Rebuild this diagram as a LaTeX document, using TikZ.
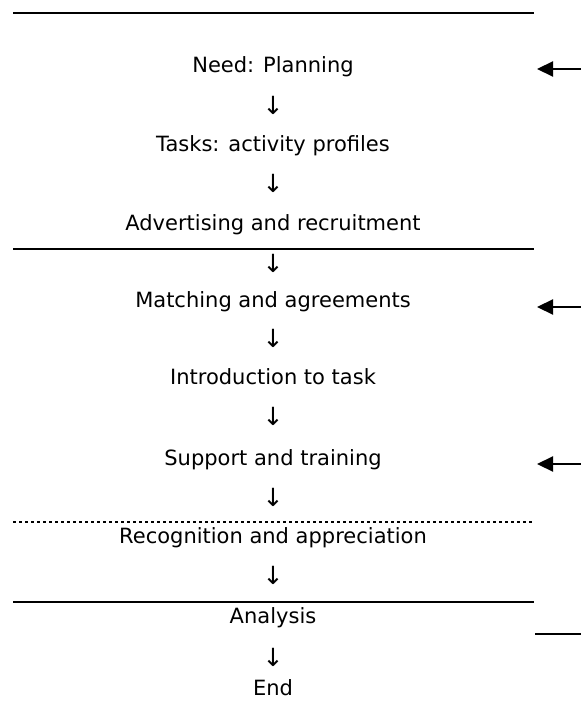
\documentclass[tikz,border=0pt]{standalone}
\usepackage{fontspec}
\setmainfont{DejaVu Sans}
\usetikzlibrary{arrows.meta}

\tikzset{
  stage/.style={anchor=base, inner sep=0pt, font=\fontsize{10.5}{12}\selectfont},
  down/.style={anchor=center, inner sep=0pt, font=\fontsize{12.5}{14}\selectfont},
  rule/.style={line width=1.4pt},
  dotrule/.style={line width=1pt, dash pattern=on 1.5pt off 1.5pt},
  feed/.style={line width=1.1pt, -{Triangle[length=8pt,width=7.5pt]}}
}

\begin{document}
\begin{tikzpicture}[x=0.5pt, y=-0.5pt]
	  \useasboundingbox (0,0) rectangle (581,711);
	  % section rules
	  \draw [rule] (13,13) -- (534,13);
	  \draw [rule] (13,249) -- (534,249);
	  \draw [dotrule] (13,522) -- (534,522);
	  \draw [rule] (13,602) -- (534,602);
	  % stages
	  \node [stage] (need) at (273,73) {Need: Planning};
	  \node [down] (d1) at (273,105) {↓};
	  \node [stage] (tasks) at (273,152) {Tasks: activity profiles};
	  \node [down] (d2) at (273,183) {↓};
	  \node [stage] (advert) at (273,230) {Advertising and recruitment};
	  \node [down] (d3) at (273,263) {↓};
	  \node [stage] (match) at (273,307) {Matching and agreements};
	  \node [down] (d4) at (273,338) {↓};
	  \node [stage] (intro) at (273,384) {Introduction to task};
	  \node [down] (d5) at (273,416) {↓};
	  \node [stage] (support) at (273,465) {Support and training};
	  \node [down] (d6) at (273,497) {↓};
	  \node [stage] (recog) at (273,543) {Recognition and appreciation};
	  \node [down] (d7) at (273,575) {↓};
	  \node [stage] (analysis) at (273,623) {Analysis};
	  \node [down] (d8) at (273,657) {↓};
	  \node [stage] (end) at (273,695) {End};
	  % feedback from the right
	  \coordinate (in1) at (581,69);  \coordinate (tip1) at (537,69);
	  \coordinate (in2) at (581,307); \coordinate (tip2) at (537,307);
	  \coordinate (in3) at (581,464); \coordinate (tip3) at (537,464);
	  \coordinate (out1) at (535,634); \coordinate (out2) at (581,634);
	  \draw [feed] (in1) -- (tip1);
	  \draw [feed] (in2) -- (tip2);
	  \draw [feed] (in3) -- (tip3);
	  \draw [rule] (out1) -- (out2);
	 \end{tikzpicture}
\end{document}
